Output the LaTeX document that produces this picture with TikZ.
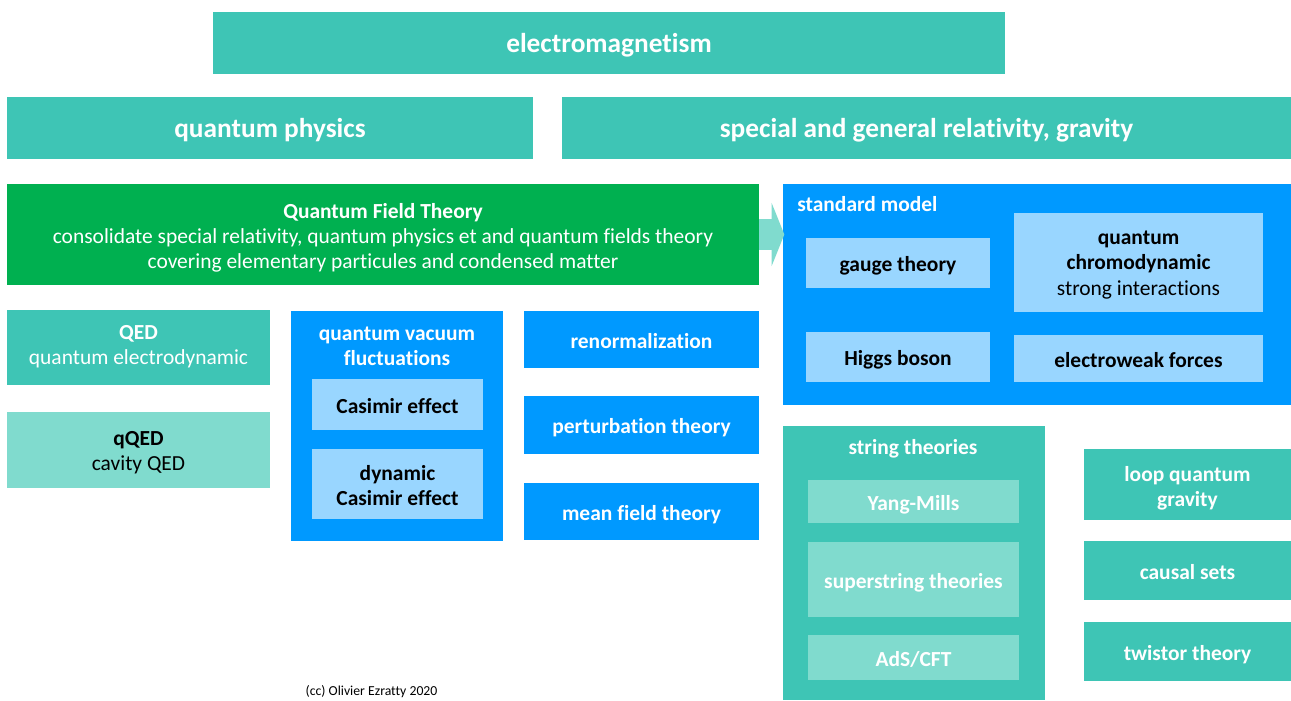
\documentclass[tikz,border=0pt]{standalone}
\usepackage{fontspec}
\setmainfont{Carlito}[Ligatures={NoCommon}]
\usetikzlibrary{arrows.meta}
\definecolor{tealA}{RGB}{62,197,181}
\definecolor{tealL}{RGB}{128,219,206}
\definecolor{blueA}{RGB}{0,153,255}
\definecolor{blueL}{RGB}{153,214,255}
\definecolor{greenA}{RGB}{0,176,80}
\newcommand\hdrfont{\fontsize{20.5}{24}\selectfont\bfseries}
\newcommand\lblfont{\fontsize{16.1}{19}\selectfont}
\newcommand\ccfont{\fontsize{10.3}{12}\selectfont}
\begin{document}
\begin{tikzpicture}[x=0.75pt,y=-0.75pt,
  sz/.style 2 args={minimum width=#1*0.75pt, minimum height=#2*0.75pt},
  th/.style={text height=#1pt, text depth=0pt},
  base/.style={inner sep=0pt, outer sep=0pt, draw=none, align=center, font=\lblfont, th=13.4},
  hdrbox/.style={base, fill=tealA, text=white, font=\hdrfont, th=14.1},
  tealbox/.style={base, fill=tealA, text=white},
  ltealbox/.style={base, fill=tealL},
  bluebox/.style={base, fill=blueA, text=white},
  lbluebox/.style={base, fill=blueL, text=black},
  greenbox/.style={base, fill=greenA, text=white},
  ttl/.style={inner sep=0pt, text=white, font=\lblfont\bfseries, align=center},
  bigarrow/.style={draw=tealL, line width=23pt, shorten >=-1pt, -{Triangle[width=47pt, length=9.5pt, fill=tealL]}}
]
\useasboundingbox (0,0) rectangle (1291,700);
% headers
\node[hdrbox, sz={792}{62}] (em) at (609,43) {electromagnetism};
\node[hdrbox, sz={526}{62}] (qp) at (270,128) {quantum physics};
\node[hdrbox, sz={729}{62}] (rel) at (926.5,128) {special and general relativity, gravity};
% QFT
\node[greenbox, sz={752}{101}, th=51.3] (qft) at (383,234.5) {{\bfseries Quantum Field Theory}\\consolidate special relativity, quantum physics et and quantum fields theory\\covering elementary particules and condensed matter};
% standard model
\node[bluebox, sz={508}{221}] (sm) at (1037,294.5) {};
\node[ttl, anchor=west] (smt) at (797,204.5) {standard model};
\node[lbluebox, sz={184}{50}, font=\lblfont\bfseries] (gauge) at (898,263) {gauge theory};
\node[lbluebox, sz={249}{99}, th=49.1] (qcd) at (1138.5,262.5) {{\bfseries quantum}\\{\bfseries chromodynamic}\\strong interactions};
\node[lbluebox, sz={184}{50}, font=\lblfont\bfseries] (higgs) at (898,357) {Higgs boson};
\node[lbluebox, sz={249}{47}, font=\lblfont\bfseries] (ew) at (1138.5,358.5) {electroweak forces};
% arrow
\draw[bigarrow] (qft.east) -- (qft.east -| sm.west);
% QED
\node[tealbox, sz={263}{75}, th=25.6] (qed) at (138.5,347.5) {{\bfseries QED}\\quantum electrodynamic};
\node[ltealbox, sz={263}{76}, th=30.9] (cqed) at (138.5,450) {{\bfseries qQED}\\cavity QED};
% vacuum fluctuations
\node[bluebox, sz={212}{230}] (qvf) at (397,426) {};
\node[ttl] (qvft) at (397,346.5) {quantum vacuum\\fluctuations};
\node[lbluebox, sz={171}{51}, font=\lblfont\bfseries] (cas) at (397.5,404.5) {Casimir effect};
\node[lbluebox, sz={171}{70}, font=\lblfont\bfseries, th=32.3] (dcas) at (397.5,484) {dynamic\\Casimir effect};
% methods
\node[bluebox, sz={235}{57}, font=\lblfont\bfseries] (ren) at (641.5,339.5) {renormalization};
\node[bluebox, sz={235}{58}, font=\lblfont\bfseries] (pert) at (641.5,425) {perturbation theory};
\node[bluebox, sz={235}{57}, font=\lblfont\bfseries] (mft) at (641.5,511.5) {mean field theory};
% string theories
\node[tealbox, sz={262}{274}] (st) at (914,563) {};
\node[ttl] (stt) at (913,449) {string theories};
\node[ltealbox, sz={211}{43}, text=white, font=\lblfont\bfseries] (ym) at (913.5,501.5) {Yang-Mills};
\node[ltealbox, sz={211}{75}, text=white, font=\lblfont\bfseries] (ss) at (913.5,579.5) {superstring theories};
\node[ltealbox, sz={211}{45}, text=white, font=\lblfont\bfseries] (ads) at (913.5,657.5) {AdS/CFT};
% quantum gravity
\node[tealbox, sz={207}{71}, font=\lblfont\bfseries, th=33.1] (lqg) at (1187.5,484.5) {loop quantum\\gravity};
\node[tealbox, sz={207}{59}, font=\lblfont\bfseries] (cs) at (1187.5,570.5) {causal sets};
\node[tealbox, sz={207}{59}, font=\lblfont\bfseries] (tw) at (1187.5,651.5) {twistor theory};
% footer
\node[inner sep=0pt, font=\ccfont] (cc) at (371.5,691.5) {(cc) Olivier Ezratty 2020};
\end{tikzpicture}
\end{document}
